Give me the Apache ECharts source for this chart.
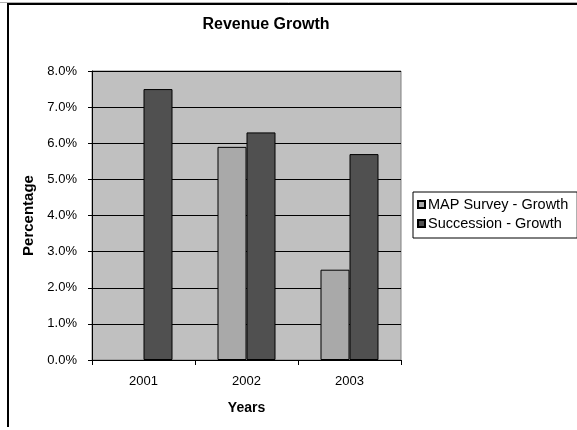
<!DOCTYPE html>
<html>
<head>
<meta charset="utf-8">
<script src="https://cdn.jsdelivr.net/npm/echarts@6/dist/echarts.min.js"></script>
<style>html,body{margin:0;padding:0;background:#fff;}#c{width:577px;height:430px;}</style>
</head>
<body>
<div id="c"></div>
<script>
const categories = ['2001', '2002', '2003'];
const mapSurveyGrowth = [null, 5.9, 2.5];
const successionGrowth = [7.5, 6.3, 5.7];
const seriesNames = ['MAP Survey - Growth', 'Succession - Growth'];
const yTicks = { min: 0, max: 8, interval: 1 };

const FONT = '"Liberation Sans", Arial, sans-serif';
const chart = echarts.init(document.getElementById('c'), null, { renderer: 'canvas' });
chart.setOption({
  backgroundColor: '#fff',
  animation: false,
  title: {
    text: 'Revenue Growth',
    left: 261, top: 12, textAlign: 'center',
    textStyle: { fontFamily: FONT, fontSize: 16, fontWeight: 'bold', color: '#000' }
  },
  graphic: [
    { type: 'line', shape: { x1: 0, y1: 2.5, x2: 577, y2: 2.5 }, style: { stroke: '#b0b0b0', lineWidth: 1 }, silent: true },
    { type: 'line', shape: { x1: 7, y1: 4, x2: 577, y2: 4 }, style: { stroke: '#000', lineWidth: 2 }, silent: true },
    { type: 'line', shape: { x1: 8, y1: 3, x2: 8, y2: 427 }, style: { stroke: '#000', lineWidth: 2 }, silent: true }
  ],
  legend: {
    orient: 'vertical',
    left: 413, top: 192,
    padding: [5, 9, 7, 4],
    itemGap: 4,
    itemWidth: 7, itemHeight: 7,
    borderColor: '#000', borderWidth: 1,
    icon: 'rect',
    textStyle: { fontFamily: FONT, fontSize: 14.5, color: '#000', padding: [0, 0, 0, -2], lineHeight: 15 },
    data: seriesNames
  },
  grid: {
    left: 92, top: 71, width: 309, height: 289,
    show: true, backgroundColor: '#c0c0c0', borderColor: '#808080', borderWidth: 1
  },
  xAxis: {
    type: 'category',
    data: categories,
    name: 'Years', nameLocation: 'middle', nameGap: 41,
    nameTextStyle: { fontFamily: FONT, fontSize: 14, fontWeight: 'bold', color: '#000' },
    axisLine: { lineStyle: { color: '#000', width: 1 } },
    axisTick: { show: true, length: 5, lineStyle: { color: '#000' } },
    axisLabel: { fontFamily: FONT, fontSize: 13, color: '#000', margin: 15 },
    splitLine: { show: false }
  },
  yAxis: {
    type: 'value',
    min: yTicks.min, max: yTicks.max, interval: yTicks.interval,
    name: 'Percentage', nameLocation: 'middle', nameGap: 48,
    nameTextStyle: { fontFamily: FONT, fontSize: 15, fontWeight: 'bold', color: '#000' },
    axisLine: { show: true, lineStyle: { color: '#000', width: 1 } },
    axisTick: { show: true, length: 4, lineStyle: { color: '#000' } },
    axisLabel: { fontFamily: FONT, fontSize: 13, color: '#000', margin: 15,
      formatter: v => v.toFixed(1) + '%' },
    splitLine: { show: true, lineStyle: { color: '#000', width: 1 } }
  },
  series: [
    {
      name: seriesNames[0], type: 'bar', data: mapSurveyGrowth,
      barWidth: 29, barGap: '0%',
      itemStyle: { color: '#a9a9a9', borderColor: '#000', borderWidth: 1 }
    },
    {
      name: seriesNames[1], type: 'bar', data: successionGrowth,
      barWidth: 29, barGap: '0%',
      itemStyle: { color: '#505050', borderColor: '#000', borderWidth: 1 }
    }
  ]
});
</script>
</body>
</html>
